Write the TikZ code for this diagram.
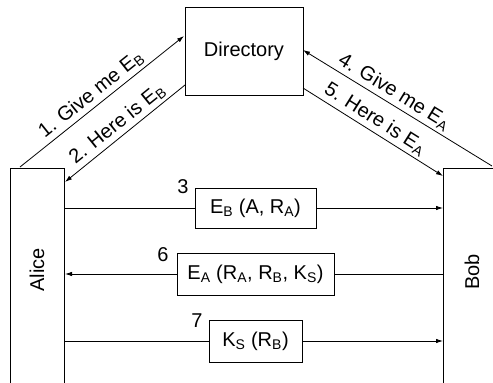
\documentclass[tikz,border=0pt]{standalone}
\usepackage{fontspec}
\setmainfont{Liberation Sans}
\usetikzlibrary{arrows.meta}
\begin{document}
\begin{tikzpicture}[x=1pt,y=-1pt,
  box/.style={draw, line width=1pt, inner sep=0pt},
  txt/.style={font=\fontsize{20}{20}\selectfont},
  msg/.style={draw, line width=1pt, inner sep=0pt, txt},
  conn/.style={line width=0.8pt, -{Latex[length=7pt,width=4.5pt]}},
  lbl/.style={txt, inner sep=1pt, sloped, above=2pt}
]
\useasboundingbox (0,0) rectangle (493,383);
\clip (0,0) rectangle (493,383);
% boxes
\node[box, minimum width=118pt, minimum height=88pt, txt] (dir) at (244,51) {Directory};
\draw[line width=1pt] (10,390) -- (10,168) -- (64,168) -- (64,390);
\node[rotate=90, txt] (alice) at (37,270) {Alice};
\draw[line width=1pt] (443,390) -- (443,168) -- (500,168);
\node[rotate=90, txt] (bob) at (472,272) {Bob};
% coordinates
\coordinate (a1) at (20,167);
\coordinate (d1) at (184,36);
\coordinate (d2) at (185,85);
\coordinate (a2) at (65,182);
\coordinate (b4) at (492,166);
\coordinate (d4) at (303,50);
\coordinate (d5) at (303,88);
\coordinate (b5) at (443,176);
% diagonal arrows
\draw[conn] (a1) -- node[lbl, pos=0.48] {1. Give me E\textsubscript{B}} (d1);
\draw[conn] (d2) -- node[lbl, pos=0.5] {2. Here is E\textsubscript{B}} (a2);
\draw[conn] (b4) -- node[lbl, pos=0.55] {4. Give me E\textsubscript{A}} (d4);
\draw[conn] (d5) -- node[lbl, pos=0.47] {5. Here is E\textsubscript{A}} (b5);
% horizontal messages
\node[msg, minimum width=121pt, minimum height=40pt] (m3) at (255.5,208) {E\textsubscript{B} (A, R\textsubscript{A})};
\node[msg, minimum width=157pt, minimum height=42pt] (m6) at (255.5,274) {E\textsubscript{A} (R\textsubscript{A}, R\textsubscript{B}, K\textsubscript{S})};
\node[msg, minimum width=93pt, minimum height=42pt] (m7) at (255.5,341) {K\textsubscript{S} (R\textsubscript{B})};
\coordinate (al3) at (64,208);
\coordinate (bo3) at (443,208);
\coordinate (al6) at (65,274);
\coordinate (bo6) at (443,274);
\coordinate (al7) at (64,341);
\coordinate (bo7) at (443,341);
\draw[line width=0.8pt] (al3) -- (m3.west);
\draw[conn] (m3.east) -- (bo3);
\draw[line width=0.8pt] (bo6) -- (m6.east);
\draw[conn] (m6.west) -- (al6);
\draw[line width=0.8pt] (al7) -- (m7.west);
\draw[conn] (m7.east) -- (bo7);
% step numbers
\node[txt, anchor=base] (n3) at (183,193) {3};
\node[txt, anchor=base] (n6) at (163,261) {6};
\node[txt, anchor=base] (n7) at (197,327) {7};
\end{tikzpicture}
\end{document}
